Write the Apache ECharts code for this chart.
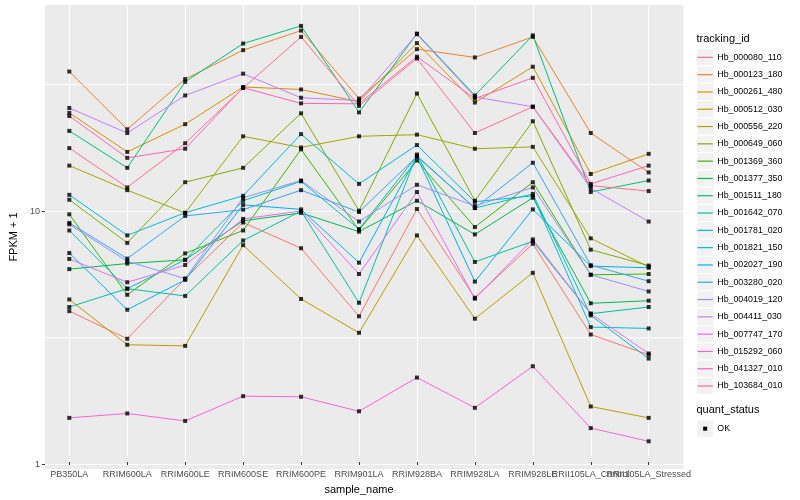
<!DOCTYPE html>
<html><head><meta charset="utf-8">
<script src="https://cdn.jsdelivr.net/npm/echarts@6/dist/echarts.min.js"></script>
<style>html,body{margin:0;padding:0;background:#fff}#c{width:800px;height:500px}</style>
</head><body><div id="c"></div>
<script>
const categories = ['PB350LA','RRIM600LA','RRIM600LE','RRIM600SE','RRIM600PE','RRIM901LA','RRIM928BA','RRIM928LA','RRIM928LE','RRII105LA_Control','RRII105LA_Stressed'];
const trackingIds = ['Hb_000080_110','Hb_000123_180','Hb_000261_480','Hb_000512_030','Hb_000556_220','Hb_000649_060','Hb_001369_360','Hb_001377_350','Hb_001511_180','Hb_001642_070','Hb_001781_020','Hb_001821_150','Hb_002027_190','Hb_003280_020','Hb_004019_120','Hb_004411_030','Hb_007747_170','Hb_015292_060','Hb_041327_010','Hb_103684_010'];
const colors = ['#F8766D','#EA8331','#D89000','#C09B00','#A3A500','#7CAE00','#39B600','#00BB4E','#00BF7D','#00C1A3','#00BFC4','#00BAE0','#00B0F6','#35A2FF','#9590FF','#C77CFF','#E76BF3','#FA62DB','#FF62BC','#FF6C91'];
const yTicks = [1, 10];
const minorBreaks = [3.1623, 31.623];

const Hb_000080_110 = [3.86, 2.99, 5.21, 8.75, 6.90, 3.68, 9.91, 4.37, 7.19, 3.11, 2.58];
const Hb_000123_180 = [35.3, 20.7, 32.9, 43.0, 51.5, 27.5, 43.4, 40.2, 48.6, 20.0, 13.9];
const Hb_000261_480 = [24.1, 16.8, 21.7, 30.6, 29.9, 26.7, 45.9, 26.5, 36.9, 13.7, 16.5];
const Hb_000512_030 = [4.30, 2.83, 2.80, 7.10, 4.32, 3.16, 7.77, 3.60, 5.50, 1.60, 1.44];
const Hb_000556_220 = [14.8, 11.8, 9.56, 19.4, 17.5, 19.4, 19.7, 17.3, 17.6, 7.56, 5.81];
const Hb_000649_060 = [10.8, 7.25, 12.7, 14.5, 24.0, 9.76, 28.8, 10.7, 22.3, 6.81, 5.88];
const Hb_001369_360 = [9.44, 4.49, 6.58, 8.13, 17.2, 8.16, 15.5, 8.39, 12.7, 5.40, 5.44];
const Hb_001377_350 = [5.69, 5.99, 6.20, 8.89, 9.56, 8.04, 10.7, 7.84, 11.0, 4.15, 4.25];
const Hb_001511_180 = [20.4, 14.5, 32.1, 45.7, 53.8, 24.2, 50.1, 28.3, 49.3, 11.6, 12.9];
const Hb_001642_070 = [4.01, 4.75, 4.44, 7.41, 9.73, 4.17, 16.4, 6.08, 7.36, 3.77, 4.01];
const Hb_001781_020 = [8.13, 4.75, 6.20, 10.7, 12.8, 8.24, 16.2, 10.0, 11.4, 3.71, 2.49];
const Hb_001821_150 = [11.3, 7.77, 9.58, 11.2, 19.8, 12.5, 17.9, 10.6, 11.2, 3.33, 3.29];
const Hb_002027_190 = [6.60, 3.91, 5.15, 10.3, 9.88, 6.04, 16.1, 5.07, 9.88, 5.85, 5.76];
const Hb_003280_020 = [8.72, 6.27, 9.30, 9.85, 11.8, 9.64, 16.1, 10.0, 15.2, 5.90, 5.09];
const Hb_004019_120 = [8.60, 6.12, 5.21, 11.0, 12.9, 8.83, 12.4, 10.2, 12.1, 5.40, 4.63];
const Hb_004411_030 = [25.2, 20.0, 28.3, 34.6, 27.7, 27.0, 49.8, 27.9, 25.5, 12.0, 8.83];
const Hb_007747_170 = [6.25, 5.04, 5.91, 9.05, 9.73, 5.44, 11.6, 4.33, 7.49, 3.77, 2.61];
const Hb_015292_060 = [1.44, 1.50, 1.40, 1.76, 1.75, 1.53, 2.09, 1.58, 2.32, 1.31, 1.16];
const Hb_041327_010 = [23.4, 15.9, 17.3, 30.4, 26.3, 26.2, 40.5, 27.5, 33.3, 12.5, 14.8];
const Hb_103684_010 = [17.4, 12.1, 18.2, 30.3, 48.6, 25.7, 39.8, 20.0, 25.5, 12.3, 11.7];

const seriesValues = [Hb_000080_110, Hb_000123_180, Hb_000261_480, Hb_000512_030, Hb_000556_220, Hb_000649_060, Hb_001369_360, Hb_001377_350, Hb_001511_180, Hb_001642_070, Hb_001781_020, Hb_001821_150, Hb_002027_190, Hb_003280_020, Hb_004019_120, Hb_004411_030, Hb_007747_170, Hb_015292_060, Hb_041327_010, Hb_103684_010];

const FONT = 'Liberation Sans, Arial, sans-serif';
const yMin = 0.958, yMax = 65.25;

const chart = echarts.init(document.getElementById('c'), null, {renderer: 'canvas'});

const series = [];
// minor grid lines (ggplot minor breaks) across the background grid
minorBreaks.forEach((v, k) => {
  series.push({
    name: 'minor' + k, type: 'line', xAxisIndex: 0, yAxisIndex: 0, silent: true, z: 3,
    data: [[0, v], [1, v]], showSymbol: false,
    lineStyle: {color: '#FAFAFA', width: 1.3}, itemStyle: {color: '#FAFAFA'}
  });
});
trackingIds.forEach((id, i) => {
  series.push({
    name: id, type: 'line', xAxisIndex: 1, yAxisIndex: 1,
    data: seriesValues[i], showSymbol: false,
    lineStyle: {color: colors[i], width: 1}, itemStyle: {color: colors[i]},
    z: 4
  });
});
const pts = [];
seriesValues.forEach(arr => arr.forEach((v, j) => pts.push([categories[j], v])));
series.push({
  name: 'OK', type: 'scatter', xAxisIndex: 1, yAxisIndex: 1, data: pts,
  symbol: 'rect', symbolSize: 4, itemStyle: {color: '#000'}, z: 5, clip: false
});

// legend drawn as graphics
const graphics = [];
const legX = 696.5, keyW = 17.3, keyH = 17.3, legTop = 48.7;
graphics.push({type: 'text', left: legX, top: 33, style: {text: 'tracking_id', font: '11px ' + FONT, fill: '#000'}});
trackingIds.forEach((id, i) => {
  const y = legTop + i * keyH;
  graphics.push({type: 'rect', shape: {x: legX, y: y, width: keyW, height: keyH}, style: {fill: '#F2F2F2', stroke: '#fff', lineWidth: 1}});
  graphics.push({type: 'line', shape: {x1: legX + 1, y1: y + keyH / 2, x2: legX + keyW - 1, y2: y + keyH / 2}, style: {stroke: colors[i], lineWidth: 1.2}});
  graphics.push({type: 'text', x: legX + keyW + 3.5, y: y + keyH / 2, style: {text: id, font: '8.8px ' + FONT, fill: '#000', textVerticalAlign: 'middle', verticalAlign: 'middle'}});
});
graphics.push({type: 'text', left: legX, top: 404, style: {text: 'quant_status', font: '11px ' + FONT, fill: '#000'}});
{
  const y = 420;
  graphics.push({type: 'rect', shape: {x: legX, y: y, width: keyW, height: keyH}, style: {fill: '#F2F2F2', stroke: '#fff', lineWidth: 1}});
  graphics.push({type: 'rect', shape: {x: legX + keyW / 2 - 2, y: y + keyH / 2 - 2, width: 4, height: 4}, style: {fill: '#000'}});
  graphics.push({type: 'text', x: legX + keyW + 3.5, y: y + keyH / 2, style: {text: 'OK', font: '8.8px ' + FONT, fill: '#000', textVerticalAlign: 'middle', verticalAlign: 'middle'}});
}

chart.setOption({
  animation: false,
  backgroundColor: '#ffffff',
  textStyle: {fontFamily: FONT},
  grid: [
    {left: 34.5, right: 116.5, top: 5, bottom: 31, show: true, backgroundColor: '#EBEBEB', borderWidth: 0, containLabel: false},
    {left: 69.3, right: 151.3, top: 5, bottom: 31, show: false, containLabel: false}
  ],
  xAxis: [
    {type: 'value', gridIndex: 0, min: 0, max: 1, axisLine: {show: false}, axisTick: {show: false}, axisLabel: {show: false}, splitLine: {show: false}},
    {type: 'category', gridIndex: 1, data: categories, boundaryGap: false,
     axisLine: {show: false},
     axisTick: {show: true, length: 3, lineStyle: {color: '#333333', width: 1}},
     axisLabel: {interval: 0, fontSize: 9, color: '#4D4D4D', margin: 8, fontFamily: FONT, hideOverlap: false},
     splitLine: {show: true, lineStyle: {color: '#ffffff', width: 1}},
     name: 'sample_name', nameLocation: 'middle', nameGap: 22,
     nameTextStyle: {fontSize: 11, color: '#000', fontFamily: FONT}}
  ],
  yAxis: [
    {type: 'log', gridIndex: 0, min: yMin, max: yMax, logBase: 10,
     axisLine: {show: false},
     axisTick: {show: true, length: 3, lineStyle: {color: '#333333', width: 1}},
     axisLabel: {fontSize: 9, color: '#4D4D4D', margin: 5, showMinLabel: false, showMaxLabel: false, fontFamily: FONT,
       formatter: v => (yTicks.indexOf(Math.round(v)) >= 0 && Math.abs(v - Math.round(v)) < 1e-6) ? String(Math.round(v)) : ''},
     splitLine: {show: true, showMinLine: false, showMaxLine: false, lineStyle: {color: '#ffffff', width: 1}},
     name: 'FPKM + 1', nameLocation: 'middle', nameGap: 18, nameRotate: 90,
     nameTextStyle: {fontSize: 11, color: '#000', fontFamily: FONT}},
    {type: 'log', gridIndex: 1, min: yMin, max: yMax, logBase: 10,
     axisLine: {show: false}, axisTick: {show: false}, axisLabel: {show: false}, splitLine: {show: false}}
  ],
  graphic: graphics,
  series: series
});
</script></body></html>
